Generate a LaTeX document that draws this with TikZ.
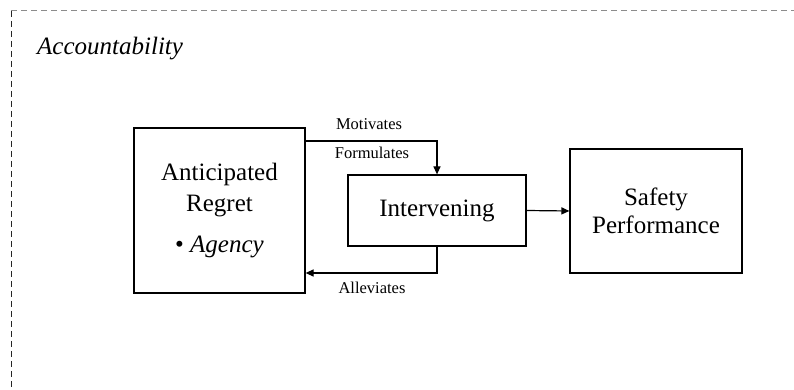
\documentclass[tikz,border=0pt]{standalone}
\usepackage{fontspec}
\setmainfont{Liberation Serif}
\usetikzlibrary{arrows.meta}

\begin{document}
\begin{tikzpicture}[x=1pt, y=-1pt,
  box/.style={draw, line width=1.2pt, align=center, inner sep=0pt},
  big/.style={font=\fontsize{25}{31}\selectfont},
  small/.style={font=\fontsize{16.5}{19}\selectfont, anchor=base, inner sep=0pt},
  arr/.style={line width=1.2pt, -{Triangle[length=8pt, width=7pt]}},
  frame/.style={line width=1pt, dash pattern=on 6pt off 4pt}
]
\useasboundingbox (0,0) rectangle (794,390);

% dashed frame (top and left sides only)
\coordinate (fc) at (11,11);
\coordinate (ftr) at (794,11);
\coordinate (fbl) at (11,390);
\draw[frame, black!45] (fc) -- (ftr);
\draw[frame, black!85] (fc) -- (fbl);

\node[anchor=base west, inner sep=0pt, font=\fontsize{25}{30}\selectfont\itshape] (acc) at (37,55) {Accountability};

% boxes
\node[box, big, minimum width=171pt, minimum height=165pt] (ar) at (219.5,210.5)
  {Anticipated\\Regret\\[10pt]\textbullet\ \textit{Agency}};
\node[box, big, minimum width=178pt, minimum height=71pt] (iv) at (437,210.5) {Intervening};
\node[box, font=\fontsize{25}{28}\selectfont, minimum width=172pt, minimum height=124pt] (sp) at (656,211) {Safety\\Performance};

% connectors
\coordinate (topturn) at (437,141);
\coordinate (lowturn) at (437,273);
\draw[arr] (ar.east |- topturn) -- (topturn) -- (iv.north);
\draw[arr] (iv.south) -- (lowturn) -- (ar.east |- lowturn);
\draw[arr] (iv.east) -- (sp.west);

% connector labels
\node[small] (mot) at (369,130) {Motivates};
\node[small] (form) at (372,159) {Formulates};
\node[small] (allev) at (372,293) {Alleviates};
\end{tikzpicture}
\end{document}
